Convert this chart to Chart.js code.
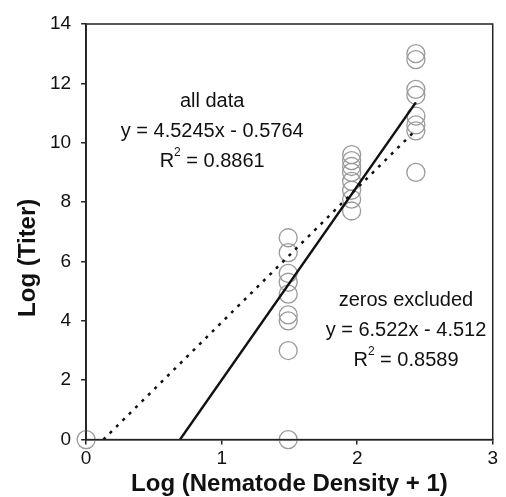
<!DOCTYPE html>
<html>
<head>
<meta charset="utf-8">
<script src="https://cdn.jsdelivr.net/npm/chart.js@4"></script>
<style>
html,body{margin:0;padding:0;background:#fff;}
#wrap{width:506px;height:497px;}
</style>
</head>
<body>
<div id="wrap"><canvas id="c" width="506" height="497"></canvas></div>
<script>
// Data
const xZero = [0];
const yZero = [0];
const xLow = 1.491;   // log(30+1)
const yLow = [6.8, 6.3, 5.6, 5.3, 4.9, 4.2, 4.0, 3.0, 0];
const xMid = 1.959;   // log(90+1)
const yMid = [9.6, 9.4, 9.2, 9.0, 8.7, 8.4, 8.1, 7.7];
const xHigh = 2.433;  // log(270+1)
const yHigh = [13.0, 12.8, 11.8, 11.6, 10.9, 10.6, 10.4, 9.0];

// Trend lines (endpoints)
const allDataLineX = [0.127, 2.433];
const allDataLineY = [0, 10.43];
const zerosExclLineX = [0.692, 2.433];
const zerosExclLineY = [0, 11.36];

const xTicks = [0, 1, 2, 3];
const yTicks = [0, 2, 4, 6, 8, 10, 12, 14];

const xTitle = 'Log (Nematode Density + 1)';
const yTitle = 'Log (Titer)';

const points = [];
xZero.forEach((x, i) => points.push({x: x, y: yZero[i]}));
yLow.forEach(y => points.push({x: xLow, y: y}));
yMid.forEach(y => points.push({x: xMid, y: y}));
yHigh.forEach(y => points.push({x: xHigh, y: y}));

const annotations = [
  {x: 0.93, y: 11.4, lines: ['all data', 'y = 4.5245x - 0.5764', 'R2 = 0.8861']},
  {x: 2.36, y: 4.7, lines: ['zeros excluded', 'y = 6.522x - 4.512', 'R2 = 0.8589']}
];

const FONT = '"Liberation Sans", Arial, sans-serif';
const AF = 20;
const SF = 12;

const framePlugin = {
  id: 'frame',
  afterDraw(chart) {
    const {ctx, chartArea: a, scales} = chart;
    ctx.save();
    ctx.strokeStyle = '#222';
    ctx.lineWidth = 1.5;
    ctx.strokeRect(a.left, a.top, a.right - a.left, a.bottom - a.top);
    ctx.fillStyle = '#111';
    ctx.textBaseline = 'middle';
    annotations.forEach(an => {
      const cx = scales.x.getPixelForValue(an.x);
      const cy = scales.y.getPixelForValue(an.y);
      an.lines.forEach((ln, i) => {
        const yy = cy + i * 30;
        ctx.font = AF + 'px ' + FONT;
        if (ln.startsWith('R2')) {
          const rest = ln.slice(2);
          const wR = ctx.measureText('R').width;
          ctx.font = SF + 'px ' + FONT;
          const w2 = ctx.measureText('2').width;
          ctx.font = AF + 'px ' + FONT;
          const wRest = ctx.measureText(rest).width;
          const sx = cx - (wR + w2 + wRest) / 2;
          ctx.textAlign = 'left';
          ctx.fillText('R', sx, yy);
          ctx.font = SF + 'px ' + FONT;
          ctx.fillText('2', sx + wR, yy - 8);
          ctx.font = AF + 'px ' + FONT;
          ctx.fillText(rest, sx + wR + w2, yy);
        } else {
          ctx.textAlign = 'center';
          ctx.fillText(ln, cx, yy);
        }
      });
    });
    // y-axis title (sits a little below the vertical centre, as in the original)
    ctx.translate(28, (a.top + a.bottom) / 2 + 26);
    ctx.rotate(-Math.PI / 2);
    ctx.font = 'bold 24px ' + FONT;
    ctx.textAlign = 'center';
    ctx.fillText(yTitle, 0, 0);
    ctx.restore();
  }
};

new Chart(document.getElementById('c'), {
  type: 'scatter',
  data: {
    datasets: [
      {
        type: 'line',
        data: allDataLineX.map((x, i) => ({x: x, y: allDataLineY[i]})),
        borderColor: '#111',
        borderWidth: 2.5,
        borderDash: [3, 6],
        pointRadius: 0,
        fill: false
      },
      {
        type: 'line',
        data: zerosExclLineX.map((x, i) => ({x: x, y: zerosExclLineY[i]})),
        borderColor: '#111',
        borderWidth: 2.5,
        pointRadius: 0,
        fill: false
      },
      {
        data: points,
        clip: false,
        pointStyle: 'circle',
        pointRadius: 9,
        pointBorderColor: '#9a9a9a',
        pointBackgroundColor: 'rgba(255,255,255,0)',
        pointBorderWidth: 1.3
      }
    ]
  },
  options: {
    responsive: false,
    animation: false,
    layout: {padding: {left: 40, right: 12, top: 24, bottom: 1}},
    plugins: {legend: {display: false}, tooltip: {enabled: false}},
    scales: {
      x: {
        type: 'linear', min: 0, max: 3,
        afterBuildTicks: s => { s.ticks = xTicks.map(v => ({value: v})); },
        ticks: {color: '#111', font: {family: FONT, size: 19, lineHeight: 0.6}, padding: 8},
        grid: {display: true, drawOnChartArea: false, drawTicks: true, tickLength: 5, color: '#222', lineWidth: 1.5},
        border: {display: true, color: '#222', width: 1.5},
        title: {display: true, text: xTitle, color: '#111', font: {family: FONT, size: 24, weight: 'bold', lineHeight: 1}, padding: {top: 0, bottom: 0}}
      },
      y: {
        type: 'linear', min: 0, max: 14,
        afterBuildTicks: s => { s.ticks = yTicks.map(v => ({value: v})); },
        ticks: {color: '#111', font: {family: FONT, size: 19, lineHeight: 1}, padding: 10},
        grid: {display: true, drawOnChartArea: false, drawTicks: true, tickLength: 5, color: '#222', lineWidth: 1.5},
        border: {display: true, color: '#222', width: 1.5},
        title: {display: false}
      }
    }
  },
  plugins: [framePlugin]
});
</script>
</body>
</html>
